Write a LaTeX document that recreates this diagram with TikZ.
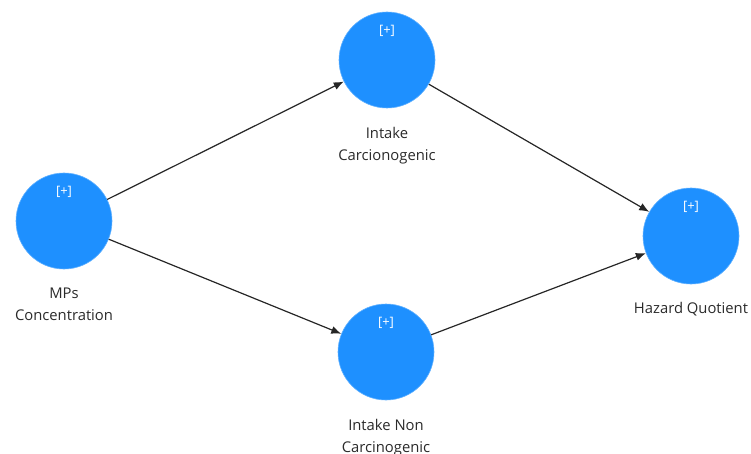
\documentclass[tikz,border=0pt]{standalone}
\usepackage{fontspec}
\setmainfont{Open Sans}
\usetikzlibrary{positioning,arrows.meta}
\definecolor{lvblue}{HTML}{1E90FF}
\definecolor{lvtext}{HTML}{2A2A2A}
\begin{document}
\begin{tikzpicture}[x=1pt,y=-1pt,
  latent/.style={circle,fill=lvblue,draw=lvblue!70!white,line width=0.6pt,minimum size=96pt,inner sep=0pt},
  lvname/.style={text=lvtext,align=center,font=\fontsize{14.8}{22}\selectfont,inner sep=0pt},
  plus/.style={text=white,font=\fontsize{13}{14}\selectfont,inner sep=0pt},
  path/.style={line width=1.2pt,draw=black!85,arrows={-Latex[length=10pt,width=8pt]}}]
\useasboundingbox (0,0) rectangle (751,454);
\node[latent] (mp) at (64,221) {};
\node[latent] (ic) at (387,60) {};
\node[latent] (inc) at (386,352) {};
\node[latent] (hq) at (691,236) {};

\foreach \lv in {mp,ic,inc,hq}
  \node[plus] (\lv-plus) at ([yshift=29pt]\lv.center) {[+]};

\node[lvname,below=18pt of mp] (mp-name) {MPs\\Concentration};
\node[lvname,below=19pt of ic] (ic-name) {Intake\\Carcionogenic};
\node[lvname,below=19pt of inc] (inc-name) {Intake Non\\Carcinogenic};
\node[lvname,below=18pt of hq] (hq-name) {Hazard Quotient};

\draw[path] (mp) -- (ic);
\draw[path] (mp) -- (inc);
\draw[path] (ic) -- (hq);
\draw[path] (inc) -- (hq);
\end{tikzpicture}
\end{document}
